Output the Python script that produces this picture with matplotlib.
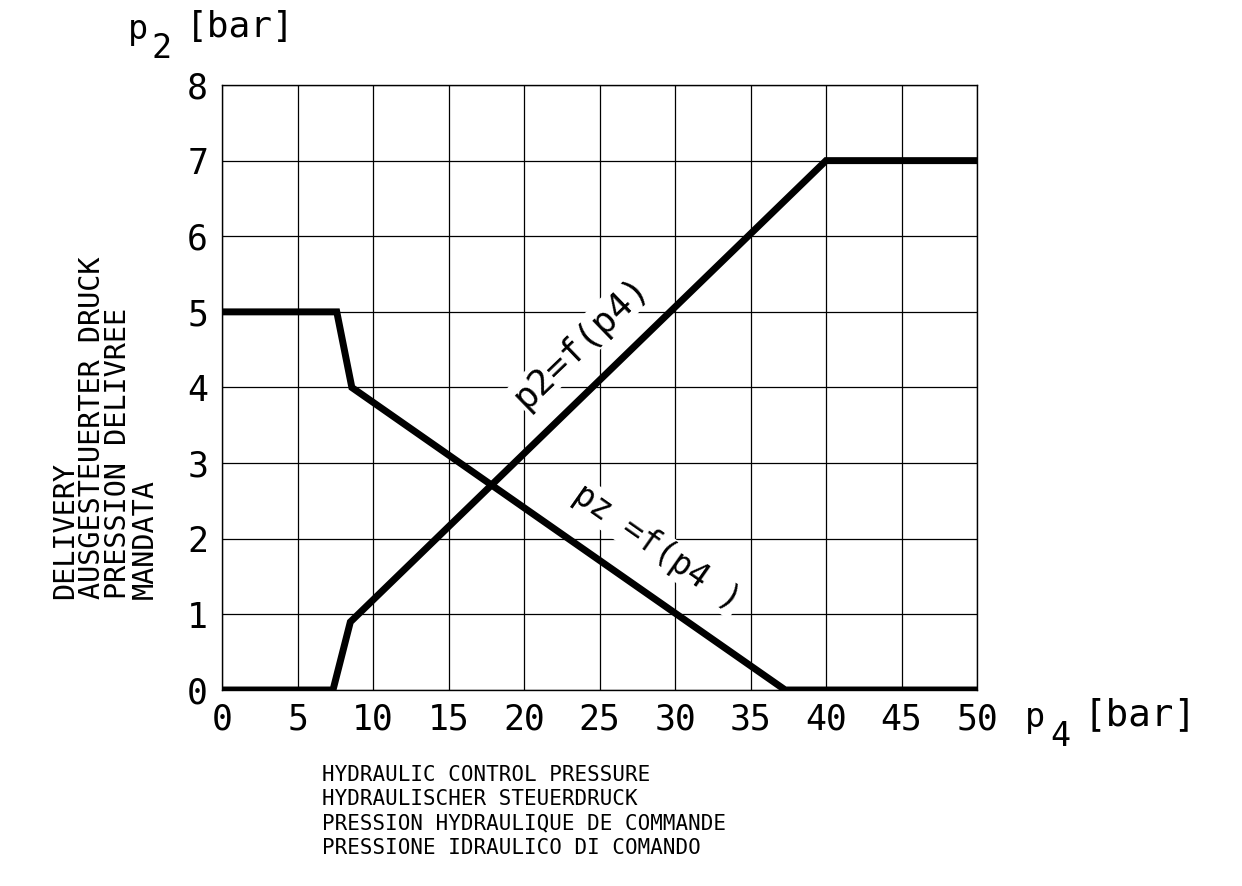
import matplotlib
matplotlib.use('Agg')
import matplotlib.pyplot as plt

# Kennlinien
p4_delivery = [0, 7.35, 8.5, 40, 50]
p2_delivery = [0, 0, 0.9, 7, 7]

p4_pz = [0, 7.6, 8.6, 37.3, 50]
pz_vals = [5, 5, 4, 0, 0]

x_ticks = [0, 5, 10, 15, 20, 25, 30, 35, 40, 45, 50]
y_ticks = [0, 1, 2, 3, 4, 5, 6, 7, 8]

ylabel_lines = ['DELIVERY', 'AUSGESTEUERTER DRUCK', 'PRESSION DELIVREE', 'MANDATA']
xlabel_lines = ['HYDRAULIC CONTROL PRESSURE', 'HYDRAULISCHER STEUERDRUCK',
                'PRESSION HYDRAULIQUE DE COMMANDE', 'PRESSIONE IDRAULICO DI COMANDO']

plt.rcParams['font.family'] = ['DejaVu Sans Mono']

fig = plt.figure(figsize=(12.42, 8.86), dpi=100)
ax = fig.add_axes([222 / 1242, 1 - 690 / 886, 755 / 1242, 605 / 886])

ax.plot(p4_delivery, p2_delivery, color='black', lw=5, solid_joinstyle='miter', zorder=3)
ax.plot(p4_pz, pz_vals, color='black', lw=5, solid_joinstyle='miter', zorder=3)

ax.set_xlim(0, 50)
ax.set_ylim(0, 8)
ax.set_xticks(x_ticks)
ax.set_yticks(y_ticks)
ax.grid(True, color='black', lw=0.9)
ax.tick_params(length=0, labelsize=25)
ax.tick_params(axis='x', pad=9)
ax.tick_params(axis='y', pad=10)
for s in ax.spines.values():
    s.set_linewidth(1.0)
ax.set_axisbelow(True)

# Beschriftungen an den Linien
ax.text(23.8, 4.6, 'p2=f(p4)', rotation=44, fontsize=26, ha='center', va='center',
        bbox=dict(facecolor='white', edgecolor='none', pad=1), zorder=2)
ax.text(28.8, 1.88, 'pz =f(p4 )', rotation=-35, fontsize=23.5, ha='center', va='center',
        bbox=dict(facecolor='white', edgecolor='none', pad=1), zorder=2)

# Achsentitel
fig.text(128 / 1242, 1 - 30 / 886, 'p', fontsize=24, va='center')
fig.text(152 / 1242, 1 - 48 / 886, '2', fontsize=24, va='center')
fig.text(186 / 1242, 1 - 27 / 886, '[bar]', fontsize=26, va='center')

fig.text(1025 / 1242, 1 - 718 / 886, 'p', fontsize=24, va='center')
fig.text(1050 / 1242, 1 - 736 / 886, '4', fontsize=24, va='center')
fig.text(1084 / 1242, 1 - 715 / 886, '[bar]', fontsize=27, va='center')

fig.text(105 / 1242, 1 - 599 / 886, '\n'.join(ylabel_lines), rotation=90, fontsize=20.5,
         ha='center', va='bottom', linespacing=0.94, multialignment='left')

fig.text(322 / 1242, 1 - 765 / 886, '\n'.join(xlabel_lines), fontsize=15,
         ha='left', va='top', linespacing=1.27)

fig.savefig('out.png', dpi=100, facecolor='white')
